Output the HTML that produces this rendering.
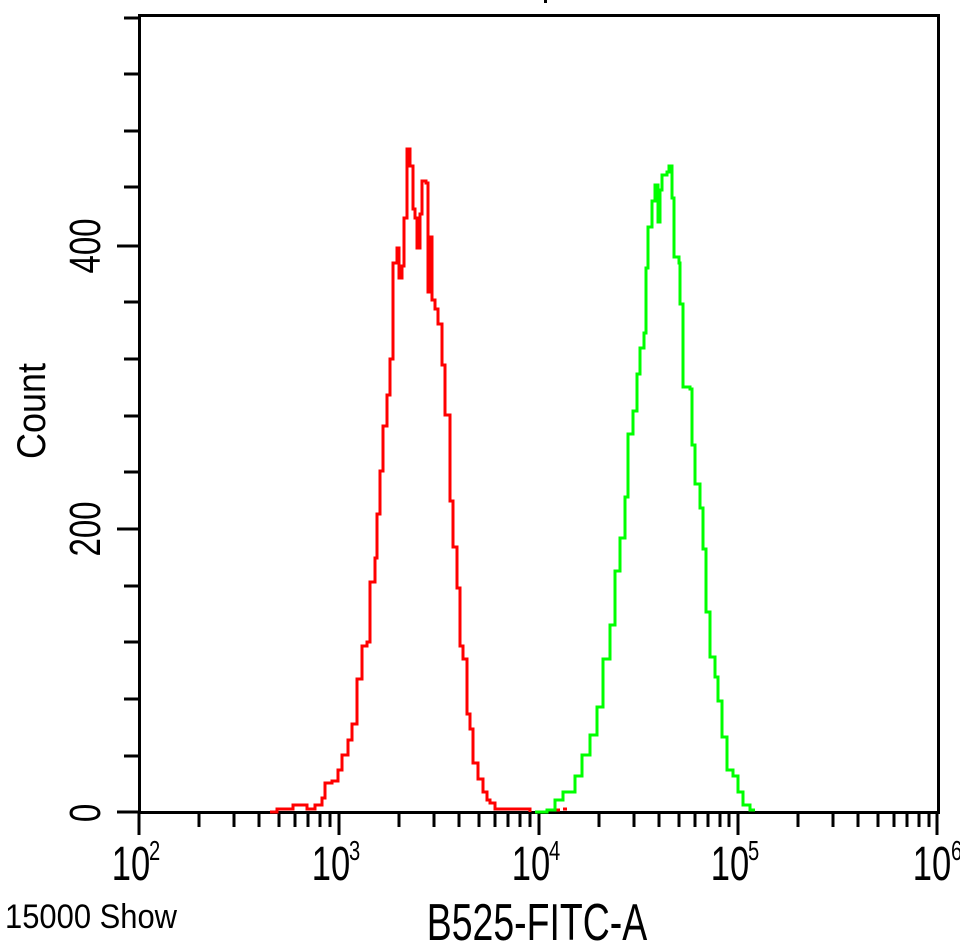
<!DOCTYPE html>
<html><head><meta charset="utf-8"><style>
html,body{margin:0;padding:0;background:#fff;}
svg{display:block;}
text{font-family:"Liberation Sans",sans-serif;fill:#000;}
</style></head><body>
<svg width="960" height="944" viewBox="0 0 960 944" xmlns="http://www.w3.org/2000/svg">
<path d="M139.5 15.5 H938.5 V812.5 H139.5 Z" fill="none" stroke="#000" stroke-width="3"/>
<g stroke="#000" stroke-width="3">
<line x1="124" y1="18" x2="139" y2="18"/>
<line x1="124" y1="74" x2="139" y2="74"/>
<line x1="124" y1="131" x2="139" y2="131"/>
<line x1="124" y1="187" x2="139" y2="187"/>
<line x1="117" y1="246" x2="139" y2="246"/>
<line x1="124" y1="302" x2="139" y2="302"/>
<line x1="124" y1="359" x2="139" y2="359"/>
<line x1="124" y1="416" x2="139" y2="416"/>
<line x1="124" y1="472" x2="139" y2="472"/>
<line x1="117" y1="529" x2="139" y2="529"/>
<line x1="124" y1="586" x2="139" y2="586"/>
<line x1="124" y1="642" x2="139" y2="642"/>
<line x1="124" y1="699" x2="139" y2="699"/>
<line x1="124" y1="756" x2="139" y2="756"/>
<line x1="117" y1="812" x2="139" y2="812"/>
</g>
<g stroke="#000" stroke-width="3">
<line x1="139" y1="812" x2="139" y2="835"/>
<line x1="339" y1="812" x2="339" y2="835"/>
<line x1="539" y1="812" x2="539" y2="835"/>
<line x1="738" y1="812" x2="738" y2="835"/>
<line x1="937" y1="812" x2="937" y2="835"/>
</g>
<g stroke="#000" stroke-width="3">
<path d="M199 812V827M234 812V827M259 812V827M279 812V827M295 812V827M308 812V827M320 812V827M330 812V827
M399 812V827M434 812V827M459 812V827M479 812V827M495 812V827M508 812V827M520 812V827M530 812V827
M599 812V827M634 812V827M659 812V827M679 812V827M695 812V827M708 812V827M720 812V827M729 812V827
M798 812V827M833 812V827M858 812V827M878 812V827M894 812V827M907 812V827M919 812V827M929 812V827"/>
</g>
<path fill="none" stroke="#f00" stroke-width="3" d="M270 812 H277 V809 H293 V805 H307 V809 H315 V805 H322 V798 H325 V783 H332 V781 H338 V770 H342 V755 H348 V740 H352 V724 H357 V679 H362 V646 H367 V642 H370 V582 H375 V558 H377 V514 H380 V471 H383 V426 H387 V395 H390 V359 H393 V263 H397 V248 H399 V278 H402 V266 H404 V218 H407 V149 H410 V166 H413 V209 H415 V218 H417 V248 H420 V214 H422 V181 H426 V183 H428 V292 H430 V237 H432 V300 H435 V309 H438 V324 H442 V365 H445 V415 H450 V501 H453 V547 H457 V588 H460 V646 H463 V659 H467 V714 H470 V729 H473 V763 H478 V779 H483 V792 H487 V800 H490 V803 H495 V809 H530 V812"/>
<path fill="none" stroke="#f00" stroke-width="3" d="M553 810 H560 M563 809 H567"/>
<path fill="none" stroke="#0f0" stroke-width="3" d="M535 812 H547 V810 H555 V800 H563 V792 H575 V776 H582 V755 H590 V735 H597 V707 H603 V659 H610 V625 H615 V571 H620 V538 H625 V497 H628 V434 H633 V411 H637 V374 H640 V348 H644 V333 H646 V268 H648 V227 H652 V201 H655 V185 H658 V222 H660 V190 H662 V175 H667 V172 H669 V166 H672 V198 H674 V257 H679 V263 H680 V304 H683 V387 H690 V389 H692 V445 H695 V484 H700 V508 H703 V549 H706 V612 H710 V657 H715 V677 H718 V701 H722 V737 H727 V770 H733 V776 H738 V792 H743 V805 H750 V810 H755"/>
<text transform="translate(100,246) rotate(-90) scale(0.75,1)" text-anchor="middle" font-size="44">400</text>
<text transform="translate(100,529) rotate(-90) scale(0.75,1)" text-anchor="middle" font-size="44">200</text>
<text transform="translate(100,813) rotate(-90) scale(0.75,1)" text-anchor="middle" font-size="44">0</text>
<text transform="translate(45,411) rotate(-90) scale(0.9,1)" text-anchor="middle" font-size="40">Count</text>
<g font-size="48">
<text transform="translate(131,880) scale(0.72,1)" text-anchor="middle">10</text>
<text transform="translate(331,880) scale(0.72,1)" text-anchor="middle">10</text>
<text transform="translate(531,880) scale(0.72,1)" text-anchor="middle">10</text>
<text transform="translate(730,880) scale(0.72,1)" text-anchor="middle">10</text>
<text transform="translate(932,880) scale(0.72,1)" text-anchor="middle">10</text>
</g>
<g font-size="28">
<text transform="translate(149,860) scale(0.72,1)">2</text>
<text transform="translate(349,860) scale(0.72,1)">3</text>
<text transform="translate(549,860) scale(0.72,1)">4</text>
<text transform="translate(748,860) scale(0.72,1)">5</text>
<text transform="translate(951,860) scale(0.72,1)">6</text>
</g>
<text x="5" y="928" font-size="34" textLength="172" lengthAdjust="spacingAndGlyphs">15000 Show</text>
<text transform="translate(537,940) scale(0.72,1)" text-anchor="middle" font-size="52">B525-FITC-A</text>
<rect x="544" y="0" width="3" height="3" fill="#000"/>
</svg>
</body></html>
